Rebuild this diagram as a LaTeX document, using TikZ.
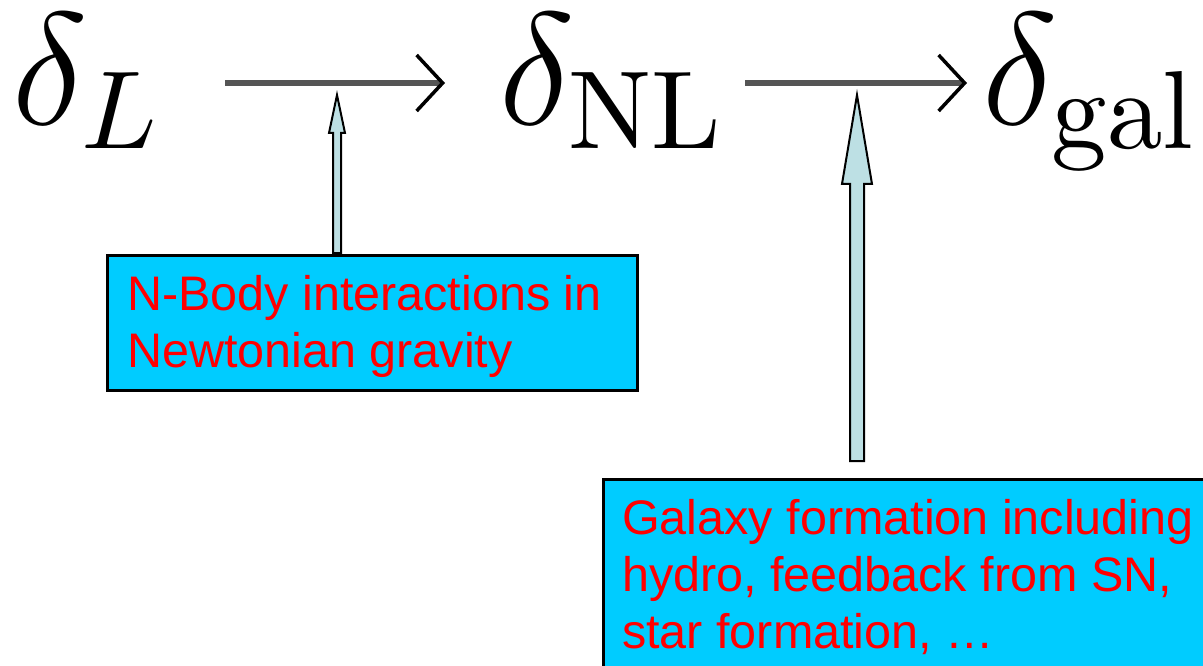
\documentclass[tikz,border=0pt]{standalone}
\usepackage{fontspec}
\newfontfamily\boxfont{Liberation Sans}
\usetikzlibrary{arrows.meta}
\definecolor{boxcyan}{HTML}{00CCFF}
\definecolor{arrfill}{HTML}{BDE0E4}
\definecolor{mgray}{HTML}{555555}
\begin{document}
\begin{tikzpicture}[x=1pt,y=-1pt,
  mathlbl/.style={anchor=base west, inner sep=0pt, font=\fontsize{14.4}{14.4}\selectfont, scale=11.1},
  mathar/.style={draw=mgray, line width=6pt, -{Straight Barb[length=26pt,width=56pt,line width=3.5pt,black]}},
  blockar/.style={fill=arrfill, draw=black, line width=2pt, line join=miter},
  cbox/.style={draw=black, fill=boxcyan, line width=2.5pt, inner sep=0pt, anchor=north west},
  btxt/.style={anchor=north west, inner sep=0pt, align=left, text=red, font=\boxfont\fontsize{48.5}{57}\selectfont}]
\useasboundingbox (0,0) rectangle (1203,666);
\clip (0,0) rectangle (1203,666);
\fill[white] (0,0) rectangle (1203,666);
% formula
\node[mathlbl] (dL) at (10,125) {$\delta_L$};
\node[mathlbl] (dNL) at (497,125) {$\delta_{\mathrm{NL}}$};
\node[mathlbl] (dgal) at (980,125) {$\delta_{\mathrm{gal}}$};
\coordinate (a1s) at (225,83);
\coordinate (a1e) at (445,83);
\coordinate (a2s) at (745,83);
\coordinate (a2e) at (967,83);
\draw[mathar] (a1s) -- (a1e);
\draw[mathar] (a2s) -- (a2e);
% block arrows
\draw[blockar] (333,253) -- (333,133) -- (329,133) -- (337,95) -- (345,133) -- (341,133) -- (341,253) -- cycle;
\draw[blockar] (850,461) -- (850,184) -- (842,184) -- (857,95) -- (872,184) -- (864,184) -- (864,461) -- cycle;
% boxes
\node[cbox, minimum width=530pt, minimum height=135pt] (box1) at (106,254) {};
\node[cbox, minimum width=640pt, minimum height=220pt] (box2) at (602,478) {};
\node[btxt] (t1) at (127,275) {N-Body interactions in\\Newtonian gravity};
\node[btxt] (t2) at (622,499) {Galaxy formation including\\hydro, feedback from SN,\\star formation, …};
\end{tikzpicture}
\end{document}
